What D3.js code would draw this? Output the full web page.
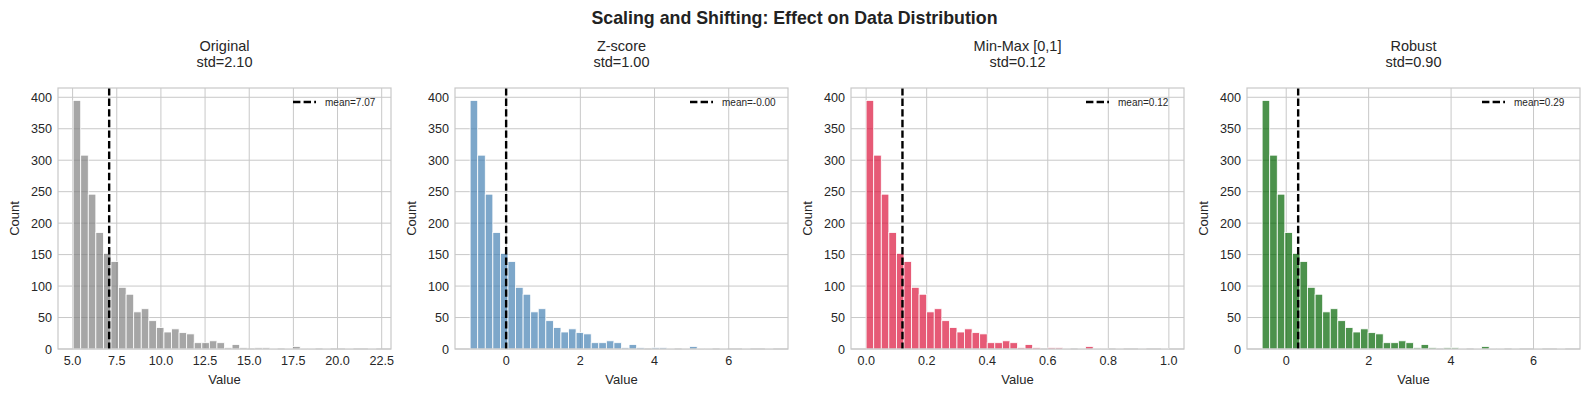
<!DOCTYPE html>
<html>
<head>
<meta charset="utf-8">
<script src="https://cdn.jsdelivr.net/npm/d3@7"></script>
<style>
  body { margin: 0; background: #fff; }
  svg { font-family: "Liberation Sans", Arial, sans-serif; }
</style>
</head>
<body>
<div id="chart"></div>
<script>
// histogram counts (same shape in every panel, 40 bins)
const binCounts = [395, 308, 246, 185, 152, 139, 98, 87, 59, 64,
                   45, 34, 27, 32, 26, 24, 10, 10, 13, 10,
                   2, 7, 2, 0, 2, 2, 1, 0, 1, 4,
                   1, 1, 0, 1, 0, 0, 1, 0, 0, 1];
const panelNames = ['Original', 'Z-score', 'Min-Max [0,1]', 'Robust'];
const panelStds = [2.10, 1.00, 0.12, 0.90];
const panelMeans = [7.07, -0.0004, 0.12, 0.29];
const panelMins = [5.03, -0.971, 0, -0.584];
const panelMaxs = [22.17, 7.19, 1, 6.76];
const panelColors = ['gray', 'steelblue', 'crimson', 'darkgreen'];
const xTicks = [
  [5, 7.5, 10, 12.5, 15, 17.5, 20, 22.5],
  [0, 2, 4, 6],
  [0, 0.2, 0.4, 0.6, 0.8, 1.0],
  [0, 2, 4, 6]
];
const xTickFormats = ['.1f', 'd', '.1f', 'd'];
const yTicks = [0, 50, 100, 150, 200, 250, 300, 350, 400];

const W = 1589, H = 397;
const svg = d3.select('#chart').append('svg')
  .attr('width', W)
  .attr('height', H);

svg.append('text')
  .attr('x', W / 2)
  .attr('y', 24)
  .attr('text-anchor', 'middle')
  .attr('font-size', '17.8px')
  .attr('font-weight', 'bold')
  .attr('fill', '#222')
  .text('Scaling and Shifting: Effect on Data Distribution');

const lefts = [58, 455, 851, 1247];
const pw = 333, plotTop = 88, plotBottom = 349;
const nBins = binCounts.length;

panelNames.forEach((name, p) => {
  const left = lefts[p], right = left + pw;
  const lo = panelMins[p], hi = panelMaxs[p];
  const pad = (hi - lo) * 0.05;
  const x = d3.scaleLinear().domain([lo - pad, hi + pad]).range([left, right]);
  const y = d3.scaleLinear().domain([0, d3.max(binCounts) * 1.05]).range([plotBottom, plotTop]);
  const bw = (hi - lo) / nBins;

  const g = svg.append('g');

  // grid
  g.selectAll('.gx').data(xTicks[p]).enter().append('line')
    .attr('x1', d => x(d)).attr('x2', d => x(d))
    .attr('y1', plotTop).attr('y2', plotBottom)
    .attr('stroke', '#c8c8c8').attr('stroke-width', 1);
  g.selectAll('.gy').data(yTicks).enter().append('line')
    .attr('x1', left).attr('x2', right)
    .attr('y1', d => y(d)).attr('y2', d => y(d))
    .attr('stroke', '#c8c8c8').attr('stroke-width', 1);

  // bars
  g.selectAll('.bar').data(binCounts).enter().append('rect')
    .attr('x', (d, i) => x(lo + i * bw))
    .attr('width', (d, i) => x(lo + (i + 1) * bw) - x(lo + i * bw))
    .attr('y', d => y(d))
    .attr('height', d => plotBottom - y(d))
    .attr('fill', panelColors[p])
    .attr('fill-opacity', 0.7)
    .attr('stroke', '#fff')
    .attr('stroke-width', d => d > 0 ? 0.8 : 0);

  // mean line
  g.append('line')
    .attr('x1', x(panelMeans[p])).attr('x2', x(panelMeans[p]))
    .attr('y1', plotTop).attr('y2', plotBottom)
    .attr('stroke', '#000').attr('stroke-width', 2.4)
    .attr('stroke-dasharray', '7.4,3.2');

  // frame
  g.append('rect')
    .attr('x', left).attr('y', plotTop)
    .attr('width', pw).attr('height', plotBottom - plotTop)
    .attr('fill', 'none').attr('stroke', '#c8c8c8').attr('stroke-width', 1.2);

  // tick labels
  const fmt = d3.format(xTickFormats[p]);
  g.selectAll('.xt').data(xTicks[p]).enter().append('text')
    .attr('x', d => x(d)).attr('y', plotBottom + 16)
    .attr('text-anchor', 'middle')
    .attr('font-size', '12.6px').attr('fill', '#262626')
    .text(d => fmt(d));
  g.selectAll('.yt').data(yTicks).enter().append('text')
    .attr('x', left - 6).attr('y', d => y(d) + 4.5)
    .attr('text-anchor', 'end')
    .attr('font-size', '12.6px').attr('fill', '#262626')
    .text(d => d);

  // axis labels
  g.append('text')
    .attr('x', (left + right) / 2).attr('y', plotBottom + 35)
    .attr('text-anchor', 'middle')
    .attr('font-size', '13px').attr('fill', '#262626')
    .text('Value');
  g.append('text')
    .attr('transform', `translate(${left - 39},${(plotTop + plotBottom) / 2}) rotate(-90)`)
    .attr('text-anchor', 'middle')
    .attr('font-size', '13px').attr('fill', '#262626')
    .text('Count');

  // titles
  g.append('text')
    .attr('x', (left + right) / 2).attr('y', 51)
    .attr('text-anchor', 'middle')
    .attr('font-size', '14.5px').attr('fill', '#262626')
    .text(name);
  g.append('text')
    .attr('x', (left + right) / 2).attr('y', 67)
    .attr('text-anchor', 'middle')
    .attr('font-size', '14.5px').attr('fill', '#262626')
    .text('std=' + panelStds[p].toFixed(2));

  // legend
  g.append('line')
    .attr('x1', right - 98).attr('x2', right - 75)
    .attr('y1', plotTop + 14).attr('y2', plotTop + 14)
    .attr('stroke', '#000').attr('stroke-width', 2.4)
    .attr('stroke-dasharray', '7.4,3.2');
  g.append('text')
    .attr('x', right - 66).attr('y', plotTop + 17.5)
    .attr('font-size', '10px').attr('fill', '#262626')
    .text('mean=' + panelMeans[p].toFixed(2));
});
</script>
</body>
</html>
